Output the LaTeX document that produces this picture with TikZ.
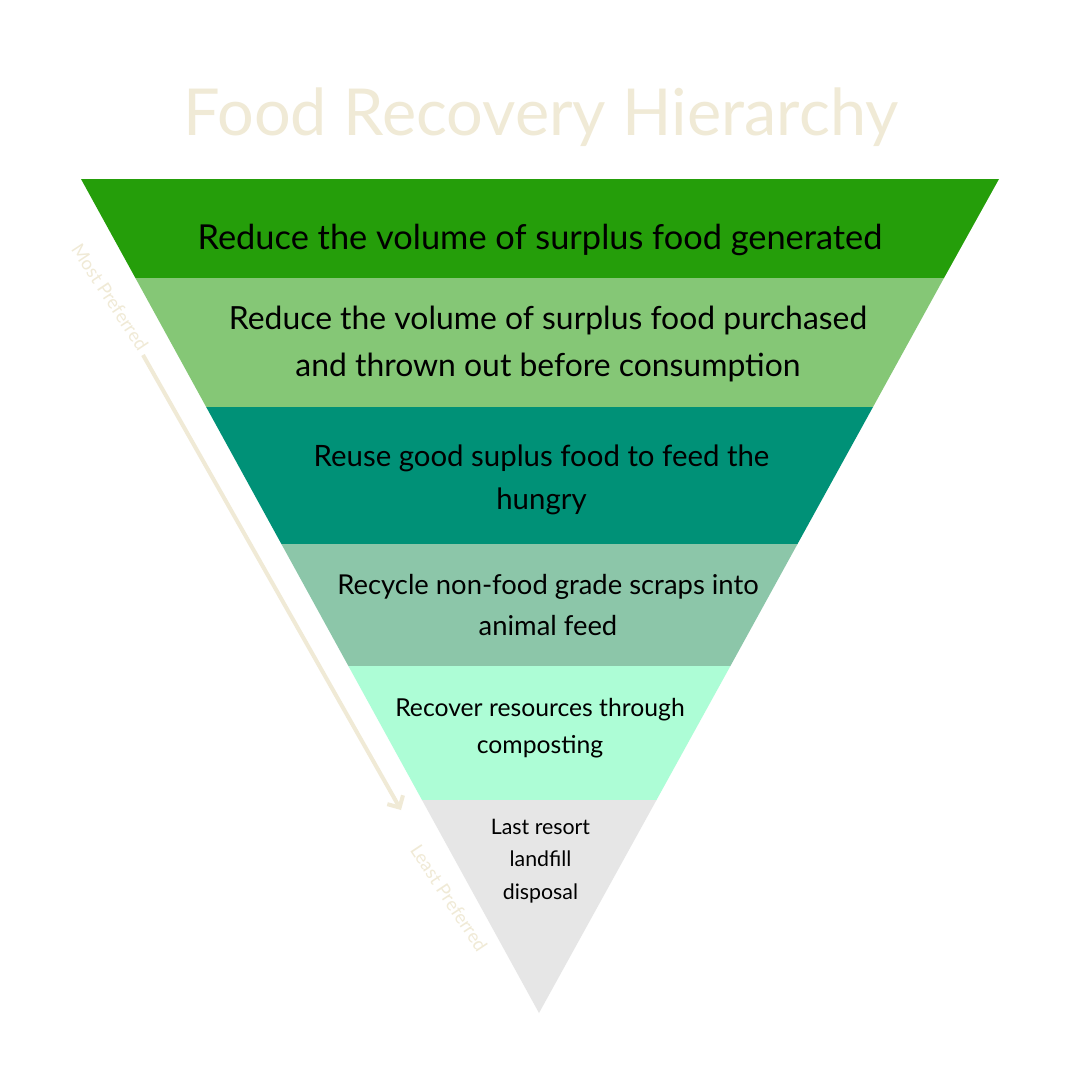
\documentclass[tikz,border=0pt]{standalone}
\usepackage{fontspec}
\setmainfont{Lato}
\usetikzlibrary{arrows.meta}
\definecolor{bandA}{HTML}{259E0A}
\definecolor{bandB}{HTML}{85C776}
\definecolor{bandC}{HTML}{009177}
\definecolor{bandD}{HTML}{8CC6A9}
\definecolor{bandE}{HTML}{ADFDD6}
\definecolor{bandF}{HTML}{E6E6E6}
\definecolor{beige}{HTML}{F0EAD6}
\tikzset{
  bandtext/.style={align=center, text=black, inner sep=0pt},
  sidelabel/.style={text=beige, inner sep=0pt, font=\fontsize{18.5}{22}\selectfont},
}
\begin{document}
\begin{tikzpicture}[x=1bp,y=-1bp]
\useasboundingbox[fill=white] (0,0) rectangle (1080,1080);
% bands
\fill[bandA] (81,179) -- (999,179) -- (944,278) -- (135.4,278) -- cycle;
\fill[bandB] (135.4,278) -- (944,278) -- (873,407) -- (206.2,407) -- cycle;
\fill[bandC] (206.2,407) -- (873,407) -- (797.5,544) -- (281.4,544) -- cycle;
\fill[bandD] (281.4,544) -- (797.5,544) -- (730.4,666) -- (348.4,666) -- cycle;
\fill[bandE] (348.4,666) -- (730.4,666) -- (656.5,800) -- (422,800) -- cycle;
\fill[bandF] (422,800) -- (656.5,800) -- (539,1013) -- cycle;
% title
\node[text=beige, font=\fontsize{65}{75}\selectfont, inner sep=0pt] (title) at (541,117) {Food Recovery Hierarchy};
% band texts
\node[bandtext, font=\fontsize{34.5}{47}\selectfont] (t1) at (540,240) {Reduce the volume of surplus food generated};
\node[bandtext, font=\fontsize{32}{47}\selectfont] (t2) at (548,344) {Reduce the volume of surplus food purchased\\and thrown out before consumption};
\node[bandtext, font=\fontsize{29.5}{43}\selectfont] (t3) at (541.5,480) {Reuse good suplus food to feed the\\hungry};
\node[bandtext, font=\fontsize{27.5}{41}\selectfont] (t4) at (548,605) {Recycle non-food grade scraps into\\animal feed};
\node[bandtext, font=\fontsize{24.8}{37}\selectfont] (t5) at (540,728) {Recover resources through\\composting};
\node[bandtext, font=\fontsize{21.4}{32.5}\selectfont] (t6) at (540.5,861) {Last resort\\landfill\\disposal};
% side labels and arrow
\node[sidelabel, rotate=-56.5] (most) at (110,297) {Most Preferred};
\node[sidelabel, rotate=-56.5] (least) at (449,898) {Least Preferred};
\coordinate (arrS) at (143,355);
\coordinate (arrE) at (401,810);
\draw[beige, line width=4bp, -{Straight Barb[length=9bp,width=18bp,line width=4bp]}] (arrS) -- (arrE);
\end{tikzpicture}
\end{document}
